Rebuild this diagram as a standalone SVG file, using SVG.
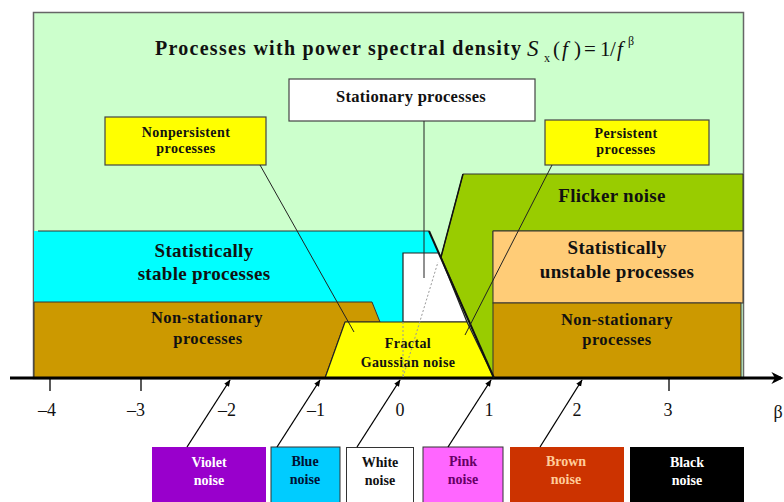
<svg xmlns="http://www.w3.org/2000/svg" width="784" height="502" viewBox="0 0 784 502">
<defs>
<marker id="ah" viewBox="0 0 10 10" refX="9" refY="5" markerWidth="7" markerHeight="7" orient="auto-start-reverse" markerUnits="userSpaceOnUse">
<path d="M0,1 L10,5 L0,9 z" fill="#000"/>
</marker>
<marker id="axh" viewBox="0 0 10 10" refX="8" refY="5" markerWidth="12" markerHeight="12" orient="auto" markerUnits="userSpaceOnUse">
<path d="M0,0 L10,5 L0,10 L3,5 z" fill="#000"/>
</marker>
</defs>
<style>
text{font-family:"Liberation Serif","Times New Roman",serif;font-weight:bold;text-anchor:middle;fill:#111}
.big{font-size:19px;letter-spacing:0.3px}
.mid{font-size:16.5px;letter-spacing:0.4px}
.sm{font-size:14px;letter-spacing:0.4px}
.nz{font-size:14px}
.ax{font-size:18px;font-weight:normal}
.mth{font-weight:normal;text-anchor:start;font-size:21px}
.reg{stroke:#333;stroke-width:1}
.box{stroke:#444;stroke-width:1.2}
.lead{stroke:#222;stroke-width:1;fill:none}
.arr{stroke:#000;stroke-width:1.3;fill:none;marker-end:url(#ah)}
</style>
<rect width="784" height="502" fill="#fff"/>

<g id="panel">
<rect x="33.5" y="12.5" width="710" height="366" fill="#ccffcc" stroke="#666" stroke-width="1.5"/>
<text x="338" y="55" style="font-size:20px" textLength="366" lengthAdjust="spacing">Processes with power spectral density</text>
<text class="mth" x="527" y="56" font-style="italic" style="font-size:23px">S</text>
<text class="mth" x="544" y="62" style="font-size:12px">x</text>
<text class="mth" x="553" y="56">(</text>
<text class="mth" x="562" y="56" font-style="italic">f</text>
<text class="mth" x="574" y="56">)</text>
<text class="mth" x="584" y="56">=</text>
<text class="mth" x="600" y="56">1</text>
<text class="mth" x="610" y="56">/</text>
<text class="mth" x="617" y="56" font-style="italic">f</text>
<text class="mth" x="628" y="45" style="font-size:12px">β</text>
</g>

<g id="flicker-noise">
<polygon class="reg" points="463,174 743,174 743,231 493,231 494,378 441,257" fill="#99cc00"/>
<text class="big" x="612" y="202">Flicker noise</text>
</g>

<g id="statistically-stable">
<polygon points="34,231 429,231 439,253 403,253 403,322 380,322 372,302 34,302" fill="#00ffff"/>
<polyline class="reg" points="38,231 429,231" fill="none"/>
<text class="big" x="204" y="257">Statistically</text>
<text class="big" x="204" y="280">stable processes</text>
</g>

<g id="non-stationary-left">
<polygon class="reg" points="34,302 372,302 380,322 345,322 325,378 34,378" fill="#cc9900"/>
<text class="mid" x="207" y="323">Non-stationary</text>
<text class="mid" x="208" y="344">processes</text>
</g>

<g id="white-region">
<polygon points="403,253 439,253 467,322 403,322" fill="#fff" stroke="#222" stroke-width="1.2"/>
</g>

<g id="fractal-gaussian-noise">
<polygon points="345,322 467,322 494,378 325,378" fill="#ffff00" stroke="#222" stroke-width="1.2"/>
<text class="sm" x="408" y="348">Fractal</text>
<text class="sm" x="408" y="367">Gaussian noise</text>
</g>

<g id="statistically-unstable">
<rect class="reg" x="493" y="231" width="250" height="72" fill="#ffcc77"/>
<text class="big" x="617" y="254">Statistically</text>
<text class="big" x="617" y="278">unstable processes</text>
</g>

<g id="non-stationary-right">
<rect class="reg" x="493" y="303" width="248" height="75" fill="#cc9900"/>
<text class="mid" x="617" y="325">Non-stationary</text>
<text class="mid" x="617" y="345">processes</text>
</g>

<g id="stationary-processes">
<rect class="box" x="289" y="79" width="246" height="42" fill="#fff"/>
<text x="411" y="102" style="font-size:16.5px;letter-spacing:0.3px">Stationary processes</text>
</g>

<g id="nonpersistent-processes">
<rect class="box" x="105" y="117" width="161" height="48" fill="#ffff00"/>
<text class="sm" x="186" y="137">Nonpersistent</text>
<text class="sm" x="186" y="153">processes</text>
</g>

<g id="persistent-processes">
<rect class="box" x="545" y="120" width="164" height="45" fill="#ffff00"/>
<text class="sm" x="626" y="138">Persistent</text>
<text class="sm" x="626" y="154">processes</text>
</g>

<g id="axis">
<line x1="10" y1="378" x2="781" y2="378" stroke="#000" stroke-width="3" marker-end="url(#axh)"/>
<line x1="50" y1="379" x2="50" y2="391" stroke="#000" stroke-width="1.3"/>
<line x1="141" y1="379" x2="141" y2="391" stroke="#000" stroke-width="1.3"/>
<line x1="669" y1="379" x2="669" y2="391" stroke="#000" stroke-width="1.3"/>
<text class="ax" x="47" y="416">–4</text>
<text class="ax" x="136" y="416">–3</text>
<text class="ax" x="227" y="416">–2</text>
<text class="ax" x="316" y="416">–1</text>
<text class="ax" x="400" y="416">0</text>
<text class="ax" x="489" y="416">1</text>
<text class="ax" x="577" y="416">2</text>
<text class="ax" x="668" y="416">3</text>
<text class="ax" x="778" y="418">β</text>
</g>

<g id="violet-noise">
<rect x="152" y="447" width="114" height="56" fill="#9900cc"/>
<text class="nz" x="209" y="467" style="fill:#fff">Violet</text>
<text class="nz" x="209" y="485" style="fill:#fff">noise</text>
</g>
<g id="blue-noise">
<rect x="271" y="447" width="69" height="56" fill="#00ccff" stroke="#333" stroke-width="1"/>
<text class="nz" x="305" y="466" style="fill:#001133">Blue</text>
<text class="nz" x="305" y="484" style="fill:#001133">noise</text>
</g>
<g id="white-noise">
<rect x="346.5" y="447.5" width="67" height="56" fill="#fff" stroke="#333" stroke-width="1"/>
<text class="nz" x="380" y="467">White</text>
<text class="nz" x="380" y="485">noise</text>
</g>
<g id="pink-noise">
<rect x="423" y="447" width="80" height="56" fill="#ff66ff" stroke="#333" stroke-width="1"/>
<text class="nz" x="463" y="466" style="fill:#660066">Pink</text>
<text class="nz" x="463" y="484" style="fill:#660066">noise</text>
</g>
<g id="brown-noise">
<rect x="510" y="447" width="114" height="56" fill="#cc3300"/>
<text class="nz" x="566" y="466" style="fill:#ffcc99">Brown</text>
<text class="nz" x="566" y="484" style="fill:#ffcc99">noise</text>
</g>
<g id="black-noise">
<rect x="630" y="447" width="114" height="56" fill="#000"/>
<text class="nz" x="687" y="467" style="fill:#fff">Black</text>
<text class="nz" x="687" y="485" style="fill:#fff">noise</text>
</g>

<g id="connectors">
<line x1="429" y1="231" x2="494" y2="378" stroke="#111" stroke-width="2"/>
<line x1="463" y1="174" x2="441" y2="257" stroke="#111" stroke-width="1.5"/>
<line x1="403" y1="322" x2="403" y2="377" stroke="#999" stroke-width="1" stroke-dasharray="2,2"/>
<line x1="403" y1="377" x2="438" y2="262" stroke="#999" stroke-width="1" stroke-dasharray="2,2"/>
<line class="lead" x1="424" y1="121" x2="424" y2="278"/>
<line class="lead" x1="260" y1="165" x2="354" y2="332"/>
<line class="lead" x1="552" y1="165" x2="465" y2="335"/>
<line class="arr" x1="187" y1="447" x2="230" y2="380"/>
<line class="arr" x1="277" y1="447" x2="320" y2="380"/>
<line class="arr" x1="357" y1="447" x2="400" y2="380"/>
<line class="arr" x1="448" y1="447" x2="491" y2="380"/>
<line class="arr" x1="540" y1="447" x2="582" y2="380"/>
</g>
</svg>
